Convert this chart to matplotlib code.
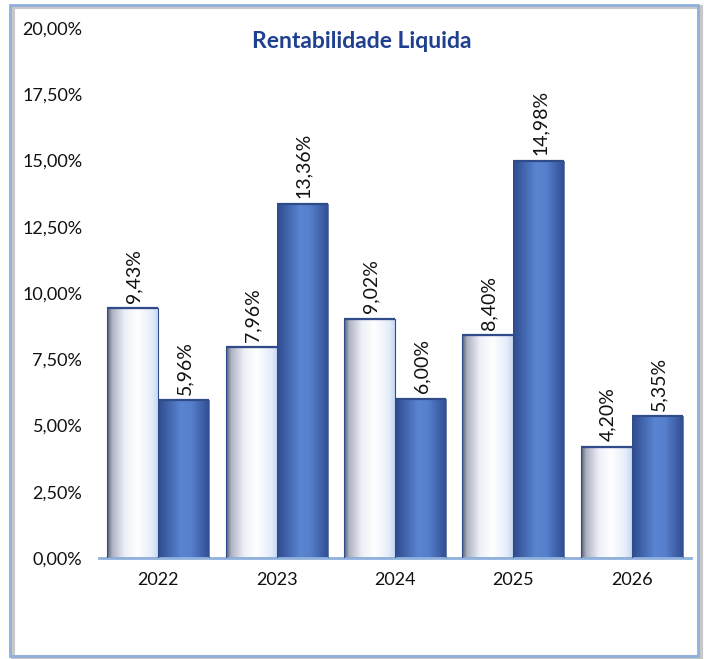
import matplotlib.pyplot as plt
import numpy as np
from matplotlib.patches import Rectangle
from matplotlib.colors import LinearSegmentedColormap
from matplotlib.ticker import FuncFormatter, MultipleLocator

plt.rcParams['font.family'] = ['Lato', 'DejaVu Sans']

years = ['2022', '2023', '2024', '2025', '2026']
serie_a = [9.43, 7.96, 9.02, 8.40, 4.20]
serie_b = [5.96, 13.36, 6.00, 14.98, 5.35]

fig = plt.figure(figsize=(7.04, 6.59), dpi=100)
ax = fig.add_axes([99 / 704, 1 - 558 / 659, 592 / 704, 530 / 659])

# frame around chart, with soft shadow at right/bottom
fig.patches.append(Rectangle((13 / 704, 2 / 659), 688 / 704, 650 / 659, transform=fig.transFigure,
                             fill=False, edgecolor='#c8c8c8', linewidth=3, zorder=0))
fig.patches.append(Rectangle((10 / 704, 3 / 659), 688 / 704, 651 / 659, transform=fig.transFigure,
                             fill=False, edgecolor='#8fb1dc', linewidth=2, zorder=1))

white_cmap = LinearSegmentedColormap.from_list('w', [
    (0.0, (0.33, 0.36, 0.45)), (0.1, (0.68, 0.70, 0.76)), (0.35, (0.93, 0.94, 0.97)),
    (0.6, (1, 1, 1)), (0.88, (0.90, 0.93, 0.98)), (1.0, (0.78, 0.85, 0.95))])
blue_cmap = LinearSegmentedColormap.from_list('b', [
    (0.0, (0.18, 0.29, 0.55)), (0.45, (0.35, 0.52, 0.82)), (0.65, (0.34, 0.50, 0.80)),
    (1.0, (0.19, 0.31, 0.58))])

x = np.arange(len(years))
w = 0.43
bars_a = ax.bar(x - w / 2, serie_a, width=w, facecolor='none', edgecolor='#2f4b8a', linewidth=0.8, zorder=3)
bars_b = ax.bar(x + w / 2, serie_b, width=w, facecolor='none', edgecolor='#2e4b88', linewidth=0.5, zorder=3)

grad = np.linspace(0, 1, 256).reshape(1, -1)
for bars, cmap in ((bars_a, white_cmap), (bars_b, blue_cmap)):
    for b in bars:
        bx, by, bw, bh = b.get_x(), b.get_y(), b.get_width(), b.get_height()
        im = ax.imshow(grad, cmap=cmap, extent=[bx, bx + bw, by, by + bh], aspect='auto',
                       interpolation='bicubic', zorder=2)
        im.set_clip_path(b)
    # darker top edge like the reference
    for b in bars:
        ax.plot([b.get_x(), b.get_x() + b.get_width()], [b.get_height()] * 2,
                color='#2f4b8a', linewidth=1.6, zorder=4, solid_capstyle='butt')

for bars, vals in ((bars_a, serie_a), (bars_b, serie_b)):
    for b, v in zip(bars, vals):
        ax.annotate(f"{v:.2f}".replace('.', ',') + '%', (b.get_x() + b.get_width() / 2, b.get_height()),
                    xytext=(1, 4), textcoords='offset points', rotation=90, ha='center', va='bottom',
                    fontsize=14, color='#111111')

ax.set_xlim(-0.5, 4.5)
ax.set_ylim(0, 20)
ax.yaxis.set_major_locator(MultipleLocator(2.5))
ax.yaxis.set_major_formatter(FuncFormatter(lambda v, p: f"{v:.2f}".replace('.', ',') + '%'))
ax.set_xticks(x)
ax.set_xticklabels(years)
ax.tick_params(axis='both', length=0, labelsize=13, colors='#111111')
ax.tick_params(axis='x', pad=10)
ax.tick_params(axis='y', pad=12)
for s in ('top', 'right', 'left'):
    ax.spines[s].set_visible(False)
ax.spines['bottom'].set_color('#8fb1dc')
ax.spines['bottom'].set_linewidth(2)

fig.text(362 / 704, 1 - 42 / 659, 'Rentabilidade Liquida', ha='center', va='center',
         fontsize=16.5, fontweight='bold', color='#1f3f8f')

fig.savefig('out.png', dpi=100)
